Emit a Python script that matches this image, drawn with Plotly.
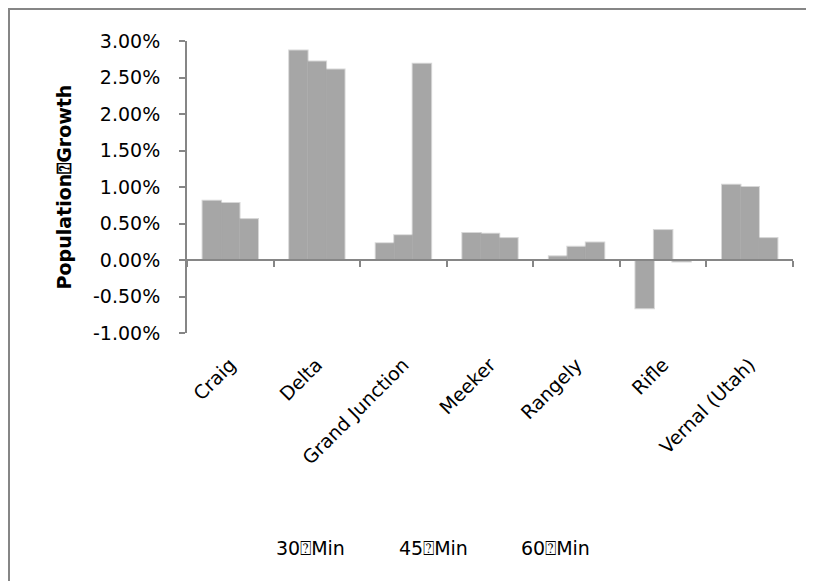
import plotly.graph_objects as go

categories = ["Craig", "Delta", "Grand Junction", "Meeker", "Rangely", "Rifle", "Vernal (Utah)"]
series_names = ["30\u2370Min", "45\u2370Min", "60\u2370Min"]
min30 = [0.0081, 0.0287, 0.0023, 0.0037, 0.0005, -0.0066, 0.0103]
min45 = [0.0078, 0.0272, 0.0034, 0.0036, 0.0018, 0.0041, 0.0100]
min60 = [0.0056, 0.0261, 0.0269, 0.0030, 0.0024, -0.0002, 0.0030]
y_ticks = [-0.01, -0.005, 0, 0.005, 0.01, 0.015, 0.02, 0.025, 0.03]
y_tick_labels = ["-1.00%", "-0.50%", "0.00%", "0.50%", "1.00%", "1.50%", "2.00%", "2.50%", "3.00%"]

FONT = "DejaVu Sans"
FS = 19
BAR = "#a6a6a6"
AX = "#868686"

fig = go.Figure()
for name, vals in zip(series_names, [min30, min45, min60]):
    fig.add_trace(go.Bar(
        x=categories, y=vals, name=name,
        marker=dict(color=BAR, line=dict(color="rgba(166,166,166,0.45)", width=2)),
        showlegend=False,
    ))

# second x axis drawn along the zero line
fig.add_trace(go.Scatter(x=categories, y=[None] * len(categories), xaxis="x2",
                         showlegend=False, hoverinfo="skip"))

fig.update_layout(
    width=814, height=581,
    margin=dict(l=179, r=29, t=33, b=256),
    paper_bgcolor="white", plot_bgcolor="white",
    barmode="group", bargap=0.36, bargroupgap=0,
    font=dict(family=FONT, size=FS, color="black"),
    xaxis=dict(type="category", categoryarray=categories, showline=False, ticks="",
               tickangle=-45, tickfont=dict(family=FONT, size=FS), showgrid=False,
               range=[-0.5, 6.5], ticklabelstandoff=16, automargin=False),
    xaxis2=dict(type="category", categoryarray=categories, overlaying="x", anchor="free",
                position=0.25, showline=True, linecolor=AX, linewidth=2,
                ticks="outside", tickson="boundaries", ticklen=6, tickwidth=2, tickcolor=AX,
                showticklabels=False, showgrid=False, range=[-0.5, 6.5]),
    yaxis=dict(range=[-0.01, 0.03], tickvals=y_ticks, ticktext=y_tick_labels,
               showline=True, linecolor=AX, linewidth=2, ticks="outside", ticklen=6,
               tickwidth=2, tickcolor=AX, showgrid=False, zeroline=False,
               tickfont=dict(family=FONT, size=FS), ticklabelstandoff=15, automargin=False,
               title=dict(text="<b>Population\u2370Growth</b>", font=dict(family=FONT, size=FS),
                          standoff=16)),
)

legend_x = [310, 433, 555]
for name, px in zip(series_names, legend_x):
    fig.add_annotation(text=name, xref="paper", yref="paper",
                       x=(px - 187) / 606, y=(333 - 548) / 292,
                       xanchor="center", yanchor="middle",
                       showarrow=False, font=dict(family=FONT, size=FS))

fig.add_shape(type="rect", xref="paper", yref="paper",
              x0=(9 - 187) / 606, x1=1.2, y0=-1.2, y1=(333 - 9) / 292,
              line=dict(color=AX, width=2), layer="below")

fig.write_html("out.html")
